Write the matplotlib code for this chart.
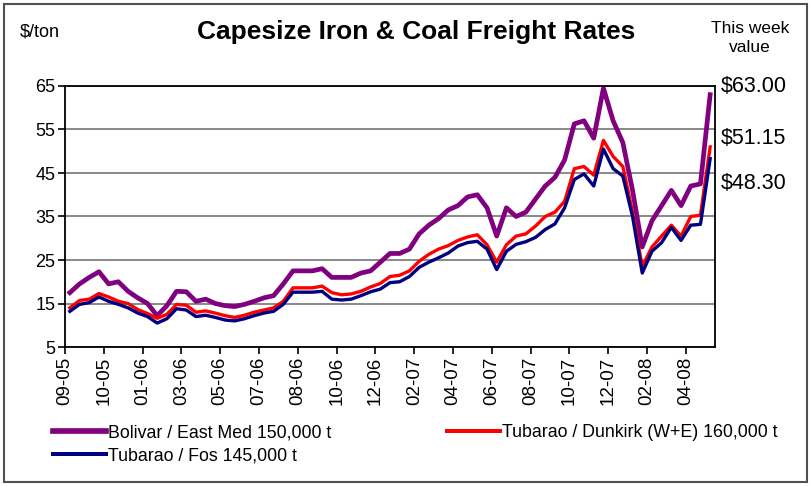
import matplotlib
matplotlib.use("Agg")
import matplotlib.pyplot as plt
from matplotlib.patches import Rectangle
import numpy as np

plt.rcParams['font.family'] = ['Liberation Sans', 'DejaVu Sans']

# fortnightly readings, Sep 2005 - May 2008 ($/ton)
bolivar = [17.5, 19.5, 21, 22.3, 19.5, 20, 17.8, 16.3, 15, 12.2,
           14.5, 17.8, 17.7, 15.5, 16, 15, 14.5, 14.3, 14.8, 15.5,
           16.3, 16.8, 19.5, 22.5, 22.5, 22.5, 23, 21, 21, 21,
           22, 22.5, 24.5, 26.5, 26.5, 27.5, 31, 33, 34.5, 36.5,
           37.5, 39.5, 40, 37, 30.5, 37, 35, 36, 39, 42,
           44, 48, 56.3, 57, 53, 64.5, 57, 52, 41, 28,
           34, 37.5, 41, 37.5, 42, 42.5, 63]
dunkirk = [14, 15.7, 16, 17.3, 16.5, 15.5, 15, 13.6, 12.7, 11.6,
           12.5, 14.8, 14.6, 13, 13.3, 12.8, 12.2, 11.8, 12.3, 13,
           13.5, 14, 15.5, 18.6, 18.6, 18.6, 19, 17.5, 17, 17.2,
           17.8, 18.8, 19.6, 21.2, 21.5, 22.5, 24.7, 26.3, 27.5, 28.3,
           29.5, 30.3, 30.8, 28.5, 24.5, 28.5, 30.5, 31, 32.8, 35,
           36, 38.5, 46, 46.5, 44.5, 52.5, 48.8, 46.5, 36, 23.5,
           28, 30.5, 33, 30.5, 35, 35.3, 51]
fos = [13.2, 14.8, 15.2, 16.5, 15.5, 14.8, 14, 12.8, 12, 10.5,
       11.5, 13.8, 13.5, 12, 12.3, 11.8, 11.2, 11, 11.5, 12.2,
       12.8, 13.2, 14.8, 17.6, 17.6, 17.6, 17.8, 16, 15.8, 16,
       16.8, 17.7, 18.3, 19.8, 20, 21.2, 23.3, 24.5, 25.5, 26.6,
       28.2, 29, 29.3, 27.5, 22.8, 27, 28.6, 29.2, 30.2, 32,
       33.3, 37, 43.5, 44.8, 42, 50.5, 46, 44.3, 35, 22,
       27, 29, 32.5, 29.5, 33, 33.2, 48.3]

tick_labels = ["09-05", "10-05", "01-06", "03-06", "05-06", "07-06", "08-06",
               "10-06", "12-06", "02-07", "04-07", "06-07", "08-07", "10-07",
               "12-07", "02-08", "04-08"]
this_week = ["$63.00", "$51.15", "$48.30"]

x = np.arange(len(bolivar))

fig = plt.figure(figsize=(8.11, 4.86), dpi=100)
ax = fig.add_axes([65/811, 1-347/486, 650/811, 261/486])

ax.plot(x, bolivar, color='#800080', lw=3.4, label='Bolivar / East Med 150,000 t')
ax.plot(x, dunkirk, color='#FF0000', lw=2.4, label='Tubarao / Dunkirk (W+E) 160,000 t')
ax.plot(x, fos, color='#000080', lw=2.4, label='Tubarao / Fos 145,000 t')

ax.set_xlim(-0.5, len(x) - 0.5)
ax.set_ylim(5, 65)
ax.set_yticks(np.arange(5, 66, 10))
ax.set_xticks(np.arange(len(tick_labels)) * 4 - 0.5)
ax.set_xticklabels(tick_labels, rotation=90, fontsize=13.5)
ax.tick_params(axis='y', labelsize=13, direction='out', length=5, width=1.2, pad=2)
ax.tick_params(axis='x', direction='out', length=5, width=1.2, pad=2)
ax.yaxis.grid(True, color='#808080', lw=1.3)
ax.set_axisbelow(True)
for s in ax.spines.values():
    s.set_linewidth(1.3)
    s.set_color('black')

fig.text(0.513, 0.934, "Capesize Iron & Coal Freight Rates", ha='center', va='center',
         fontsize=19, fontweight='bold')
fig.text(0.025, 0.934, "$/ton", ha='left', va='center', fontsize=13)
fig.text(0.925, 0.922, "This week\nvalue", ha='center', va='center', fontsize=12.5,
         linespacing=1.3)
for lbl, yy in zip(this_week, [0.821, 0.716, 0.623]):
    fig.text(0.889, yy, lbl, ha='left', va='center', fontsize=15.5)

h, l = ax.get_legend_handles_labels()
order = [0, 2, 1]
leg = fig.legend([h[i] for i in order], [l[i] for i in order], ncol=2,
                 loc='upper left', bbox_to_anchor=(53/811, 1-424/486),
                 frameon=False, fontsize=12.8, handlelength=3.0, handletextpad=0.1,
                 columnspacing=6.5, labelspacing=0.35, borderpad=0, borderaxespad=0)
for line in leg.get_lines():
    line.set_linewidth(line.get_linewidth() * 1.2)

fig.patches.append(Rectangle((4/811, 4/486), 803/811, 478/486, transform=fig.transFigure,
                             fill=False, edgecolor='#505050', lw=1.5))

fig.savefig("out.png", dpi=100)
